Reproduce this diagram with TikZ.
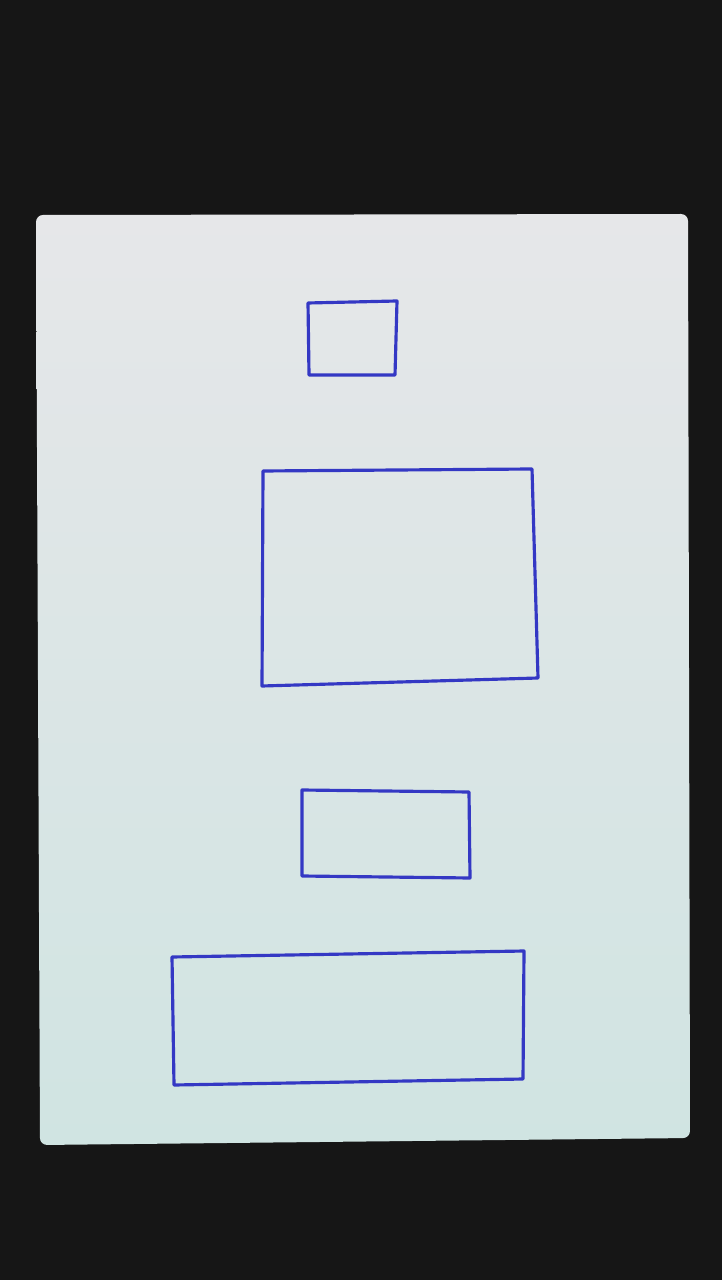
\documentclass[tikz,border=0pt]{standalone}
\usepackage{xcolor}
\usepackage{tikz}
\usetikzlibrary{calc}

\definecolor{desk}{HTML}{161616}
\definecolor{papertop}{HTML}{E6E7E9}
\definecolor{paperbot}{HTML}{D0E4E2}
\definecolor{pen}{HTML}{3438C4}

\tikzset{
    sheet/.style={top color=papertop, bottom color=paperbot, draw=none, rounded corners=2pt},
    box/.style={draw=pen, line width=0.9pt, line join=round, line cap=round}
}

\begin{document}
\begin{tikzpicture}[x=0.01cm, y=-0.01cm]
    \useasboundingbox (0,0) rectangle (722,1280);
    \fill[desk] (0,0) rectangle (722,1280);
    % paper sheet
    \path[sheet] (36,215) -- (688,214) -- (690,1138) -- (40,1145) -- cycle;
    % boxes, top to bottom
    \draw[box] (308,303) -- (397,301) -- (395,375) -- (309,375) -- cycle;
    \draw[box] (263,471) -- (532,469) -- (538,678) -- (262,686) -- cycle;
    \draw[box] (302,790) -- (469,792) -- (470,878) -- (302,876) -- cycle;
    \draw[box] (172,957) -- (524,951) -- (523,1079) -- (174,1085) -- cycle;
\end{tikzpicture}
\end{document}
